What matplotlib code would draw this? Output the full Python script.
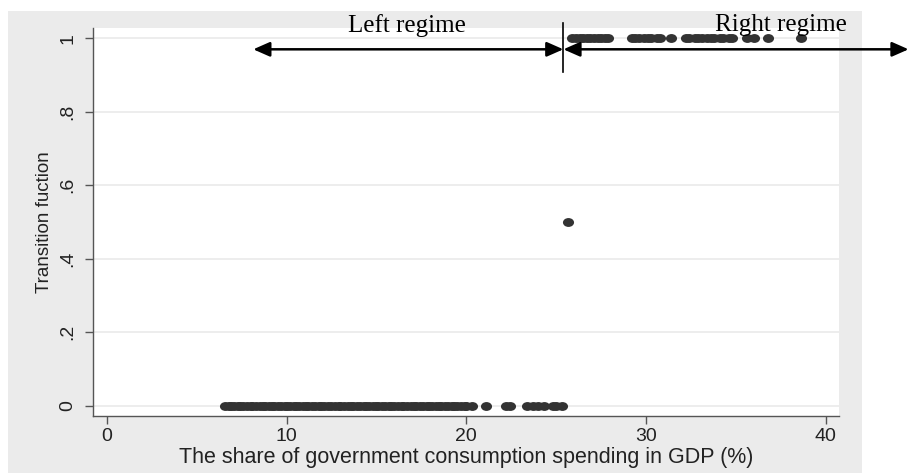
import matplotlib
matplotlib.use("Agg")
import matplotlib.pyplot as plt
from matplotlib.path import Path

# observations of the transition function
left_x = [6.6, 6.8, 6.9, 7.1, 7.3, 7.4, 7.6, 7.8, 8.0, 8.1, 8.3, 8.5, 8.7, 8.8,
          9.0, 9.2, 9.3, 9.5, 9.7, 9.9, 10.0, 10.2, 10.4, 10.5, 10.7, 10.9, 11.1,
          11.2, 11.4, 11.6, 11.8, 11.9, 12.1, 12.3, 12.5, 12.7, 12.9, 13.0, 13.2,
          13.4, 13.6, 13.7, 13.9, 14.1, 14.3, 14.4, 14.6, 14.8, 15.0, 15.1, 15.3,
          15.5, 15.7, 15.8, 16.0, 16.2, 16.4, 16.5, 16.7, 16.9, 17.1, 17.2, 17.4,
          17.6, 17.8, 17.9, 18.1, 18.3, 18.5, 18.6, 18.8, 19.0, 19.2, 19.3, 19.5,
          19.7, 19.9, 20.0, 20.3, 21.1, 22.2, 22.45, 23.4, 23.7, 24.0, 24.3,
          24.8, 25.0, 25.3]
left_y = [0] * len(left_x)

mid_x = [25.65]
mid_y = [0.5]

right_x = [25.9, 26.1, 26.3, 26.5, 26.7, 26.9, 27.1, 27.3, 27.5, 27.7, 27.9,
           29.2, 29.4, 29.6, 29.9, 30.1, 30.3, 30.6, 30.8, 31.4, 32.2, 32.4,
           32.7, 32.9, 33.1, 33.4, 33.6, 33.8, 34.1, 34.3, 34.6, 34.8, 35.6,
           36.0, 36.8, 38.6]
right_y = [1] * len(right_x)

x_ticks = [0, 10, 20, 30, 40]
y_ticks = [0, 0.2, 0.4, 0.6, 0.8, 1.0]
y_labels = ["0", ".2", ".4", ".6", ".8", "1"]

threshold = 25.4
left_end = 8.15
right_end = 44.6
arrow_y = 0.97

POINT_COLOR = '#333333'
AXIS_COLOR = '#555555'
BG_GREY = '#ebebeb'

plt.rcParams['font.family'] = ['Liberation Sans', 'DejaVu Sans']

# slightly flattened dot, like the stretched stata export
circ = Path.unit_circle()
dot = Path(circ.vertices * [1.0, 0.8], circ.codes)

fig = plt.figure(figsize=(9.09, 4.73), dpi=100)
fig.patch.set_facecolor('white')

# grey graph region behind the plot
bg = fig.add_axes([8 / 909, 0, (862 - 8) / 909, (473 - 11) / 473], zorder=0)
bg.set_facecolor(BG_GREY)
bg.set_xticks([])
bg.set_yticks([])
for s in bg.spines.values():
    s.set_visible(False)

ax = fig.add_axes([92.7 / 909, 1 - 415.7 / 473, (839 - 92.7) / 909, (415.7 - 28) / 473],
                  zorder=2)
ax.set_facecolor('white')

for x, y in [(left_x, left_y), (mid_x, mid_y), (right_x, right_y)]:
    ax.plot(x, y, linestyle='none', marker=dot, color=POINT_COLOR,
            markersize=8, markeredgewidth=0, zorder=3)

ax.set_xlim(-0.78, 40.73)
ax.set_ylim(-0.027, 1.028)
ax.set_xticks(x_ticks)
ax.set_yticks(y_ticks)
ax.set_yticklabels(y_labels, rotation=90, va='center')
ax.grid(axis='y', color='#eaeaea', linewidth=1.2)
ax.set_axisbelow(True)

for s in ['top', 'right']:
    ax.spines[s].set_visible(False)
for s in ['left', 'bottom']:
    ax.spines[s].set_color(AXIS_COLOR)
    ax.spines[s].set_linewidth(1.0)
ax.tick_params(colors=AXIS_COLOR, labelcolor='#222222', labelsize=14,
               length=6, width=1.0)
ax.tick_params(axis='y', pad=6)
ax.tick_params(axis='x', pad=3)

ax.set_xlabel("The share of government consumption spending in GDP (%)",
              fontsize=15.5, color='#222222', labelpad=1)
ax.set_ylabel("Transition fuction", fontsize=13.5, color='#222222', labelpad=4)

# regime annotations
ax.plot([threshold, threshold], [0.909, 1.041], color='black', linewidth=1.2,
        clip_on=False, zorder=5)
arrow = dict(arrowstyle='<|-|>,head_length=0.5,head_width=0.22', color='black',
             linewidth=1.8, shrinkA=0, shrinkB=0, mutation_scale=20)
ax.annotate('', xy=(left_end, arrow_y), xytext=(threshold, arrow_y),
            arrowprops=arrow, annotation_clip=False)
ax.annotate('', xy=(right_end, arrow_y), xytext=(threshold, arrow_y),
            arrowprops=arrow, annotation_clip=False)

ax.text(16.7, 1.036, "Left regime", fontsize=18, family='Liberation Serif',
        ha='center', va='center', clip_on=False, zorder=6)
ax.text(37.5, 1.036, "Right regime", fontsize=18, family='Liberation Serif',
        ha='center', va='center', clip_on=False, zorder=6)

fig.savefig('out.png', dpi=100)
